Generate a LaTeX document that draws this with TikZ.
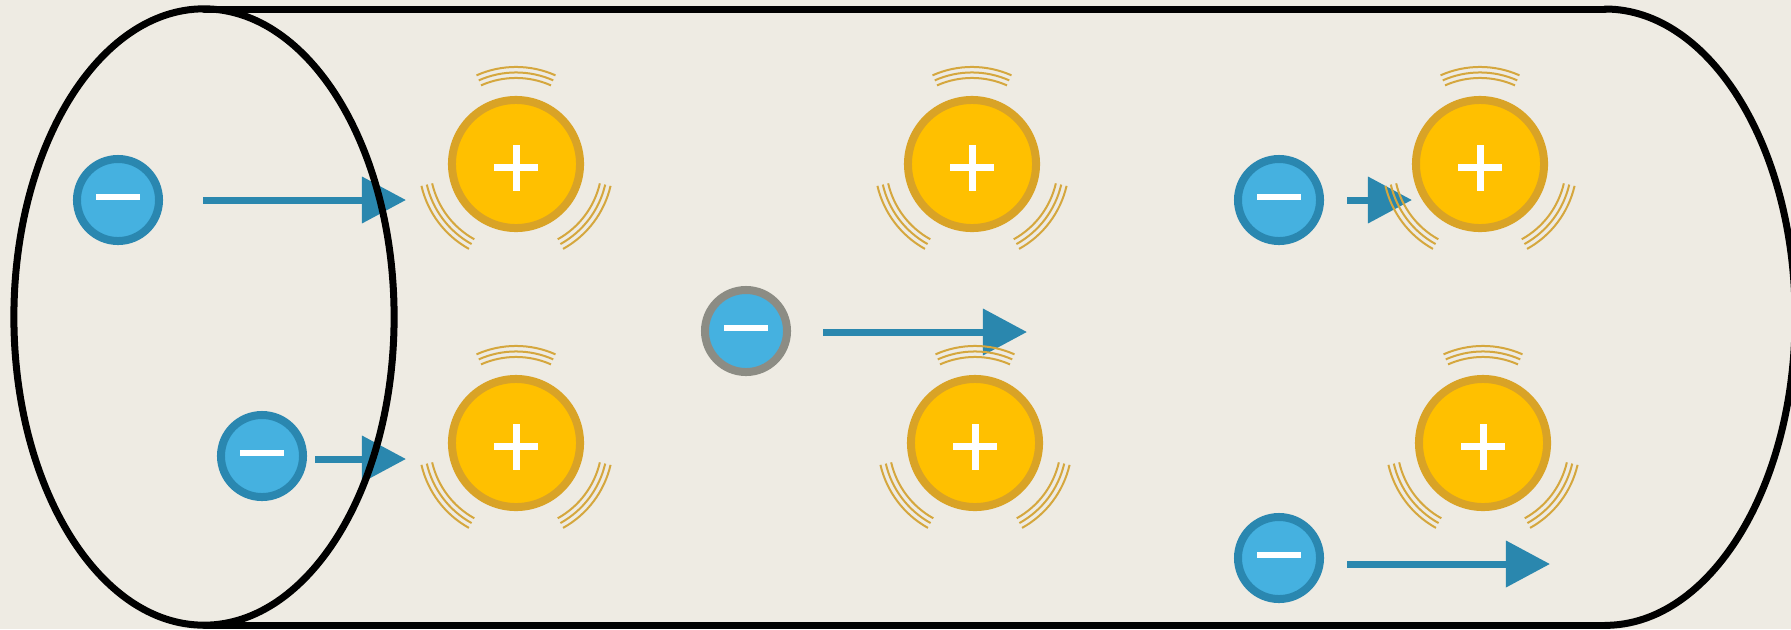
\documentclass[tikz,border=0pt]{standalone}
\usepackage{xcolor}
\usepackage{tikz}
\usetikzlibrary{arrows.meta}
\definecolor{paper}{HTML}{EEEBE3}
\definecolor{elecfill}{HTML}{45B1E0}
\definecolor{elecedge}{HTML}{2A87B0}
\definecolor{driftcol}{HTML}{2A87AE}
\definecolor{ionfill}{HTML}{FFC000}
\definecolor{ionedge}{HTML}{D9A326}
\definecolor{vibcol}{HTML}{D5A73E}
\definecolor{edgegray}{HTML}{8C8C84}
\tikzstyle{electron}=[circle, draw=elecedge, fill=elecfill, line width=0.08cm,
  minimum size=0.82cm, inner sep=0pt,
  path picture={\fill[white] ([shift={(-22,0)}]path picture bounding box.center) rectangle ++(44,6.5);}]
\tikzstyle{ion}=[circle, draw=ionedge, fill=ionfill, line width=0.08cm,
  minimum size=1.28cm, inner sep=0pt,
  path picture={\fill[white] ([shift={(-22,-7)}]path picture bounding box.center) rectangle ++(44,7);
    \fill[white] ([shift={(-3.5,-27)}]path picture bounding box.center) rectangle ++(7,46);}]
\tikzstyle{drift}=[-{Triangle[length=0.44cm,width=0.45cm]}, line width=0.07cm, draw=driftcol]
\tikzstyle{tube}=[line width=0.07cm, line cap=round, draw=black]
\tikzstyle{vib}=[line width=0.02cm, draw=vibcol]

\begin{document}
\begin{tikzpicture}[x=0.01cm, y=0.01cm]
		\useasboundingbox (0,0) rectangle (1791,629);
		\fill[paper] (0,0) rectangle (1791,629);
		% free electrons
		\node (e1)[electron] at (118,429) {};
		\node (e2)[electron] at (262,173) {};
		\node (e3)[electron, draw=edgegray] at (746,298) {};
		\node (e4)[electron] at (1279,429) {};
		\node (e5)[electron] at (1279,71) {};
		% where the drift arrows end
		\coordinate (t1) at (406,429);
		\coordinate (t2) at (406,170);
		\coordinate (t3) at (1027,297);
		\coordinate (t4) at (1412,429);
		\coordinate (t5) at (1550,65);
		\draw[drift] ([shift={(40,0)}]e1.east) -- (t1);
		\draw[drift] ([shift={(8,-3)}]e2.east) -- (t2);
		\draw[drift] ([shift={(32,-1)}]e3.east) -- (t3);
		\draw[drift] ([shift={(23,0)}]e4.east) -- (t4);
		\draw[drift] ([shift={(23,-6)}]e5.east) -- (t5);
		% the wire
		\draw[tube] (204,312) ellipse [x radius=1.9cm, y radius=3.08cm];
		\draw[tube] (204,620) -- (1605,620);
		\draw[tube] (204,4) -- (1605,4);
		\draw[tube] (1605,620) arc[start angle=90, end angle=-90, x radius=1.9cm, y radius=3.08cm];
		% lattice ions
		\node (i1)[ion] at (516,465) {};
		\node (i2)[ion] at (972,465) {};
		\node (i3)[ion] at (1480,465) {};
		\node (i4)[ion] at (516,186) {};
		\node (i5)[ion] at (975,186) {};
		\node (i6)[ion] at (1483,186) {};
		% thermal vibration
		\foreach \ion in {i1,i2,i3,i4,i5,i6}
			\foreach \r in {0.86,0.915,0.97}
				\foreach \a in {66,193,299}
					\draw[vib] (\ion.center) ++(\a:\r cm) arc[start angle=\a, delta angle=48, radius=\r cm];
\end{tikzpicture}
\end{document}
